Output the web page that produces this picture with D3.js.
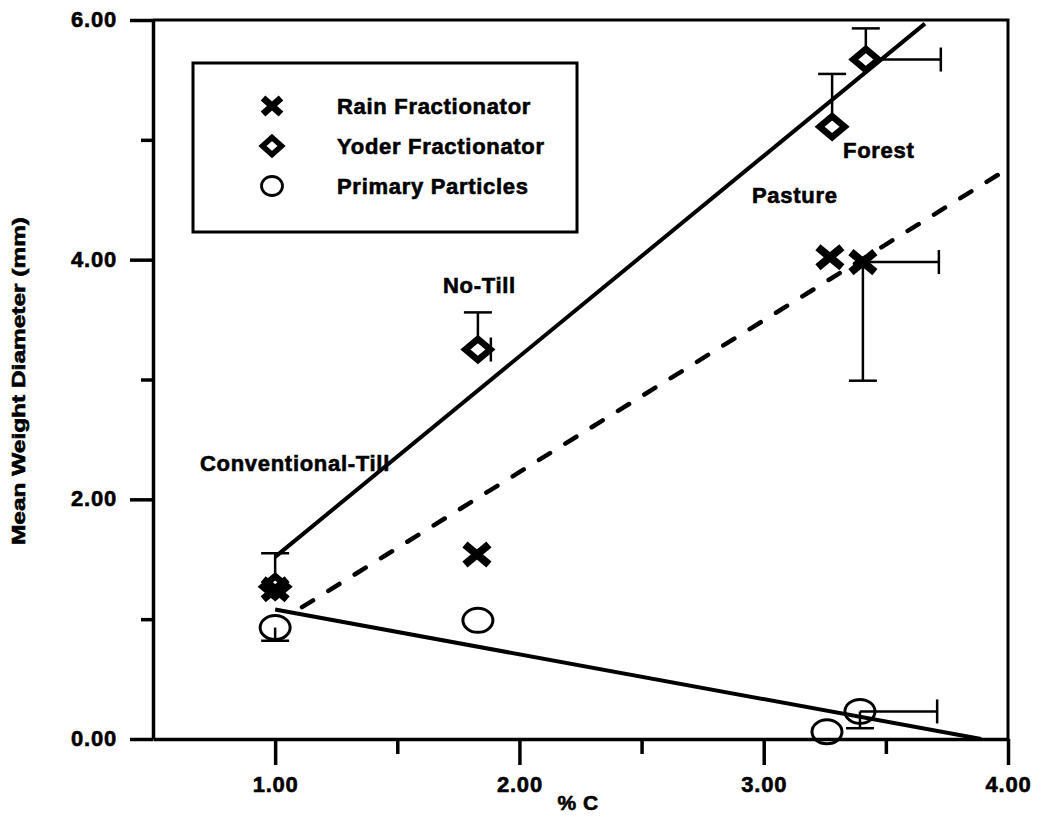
<!DOCTYPE html>
<html><head><meta charset="utf-8">
<script src="https://cdn.jsdelivr.net/npm/d3@7"></script>
<style>
body{margin:0;background:#fff}
text{font-family:"Liberation Sans",Arial,sans-serif;font-weight:bold;fill:#000;stroke:#000;stroke-width:0.6px}
</style>
</head><body><svg id="c" width="1040" height="822"></svg>
<script>
// ---- data ----
const xMajorTicks=[1,2,3,4];
const xMinorTicks=[1.5,2.5,3.5];
const yMajorTicks=[0,2,4,6];
const yMinorTicks=[1,3,5];
const xTickLabels=["1.00","2.00","3.00","4.00"];
const yTickLabels=["0.00","2.00","4.00","6.00"];

const rainX=[1.0,1.826,3.271,3.406];
const rainY=[1.25,1.54,4.02,3.98];
const rainYLo=[null,null,null,2.99];
const rainXHi=[null,null,null,3.717];

const yoderX=[1.0,1.83,3.28,3.418];
const yoderY=[1.27,3.25,5.11,5.67];
const yoderYHi=[1.55,3.56,5.55,5.93];
const yoderXHi=[null,1.883,null,3.725];

const primX=[1.0,1.83,3.259,3.394];
const primY=[0.93,0.99,0.06,0.23];
const primYLo=[0.82,null,null,0.09];
const primXHi=[null,null,null,3.71];

const yoderFit=[[1.0,1.52],[3.66,5.97]];
const rainFit=[[1.11,1.10],[4.0,4.76]];
const primFit=[[1.0,1.08],[3.89,0.0]];

const seriesNames=["Rain Fractionator","Yoder Fractionator","Primary Particles"];
const siteLabels=["Conventional-Till","No-Till","Pasture","Forest"];
const xTitle="% C";
const yTitle="Mean Weight Diameter (mm)";

// ---- chart ----
const svg=d3.select("#c");
const x=d3.scaleLinear().domain([0.5,4]).range([153,1008]);
const y=d3.scaleLinear().domain([0,6]).range([739,20]);

// frame top / right
svg.append("path").attr("d",`M${x(0.5)},${y(6)}H${x(4)}V${y(0)}`)
  .attr("fill","none").attr("stroke","#000").attr("stroke-width",3);

// axes
const gx=svg.append("g").attr("transform",`translate(0,${y(0)})`)
  .call(d3.axisBottom(x).tickValues(xMajorTicks).tickSize(26).tickSizeOuter(0)
    .tickFormat((d,i)=>xTickLabels[i]));
const gxm=svg.append("g").attr("transform",`translate(0,${y(0)})`)
  .call(d3.axisBottom(x).tickValues(xMinorTicks).tickSize(15).tickSizeOuter(0).tickFormat(""));
gxm.select(".domain").remove();
const gy=svg.append("g").attr("transform",`translate(${x(0.5)},0)`)
  .call(d3.axisLeft(y).tickValues(yMajorTicks).tickSize(23).tickSizeOuter(0)
    .tickFormat((d,i)=>yTickLabels[i]));
const gym=svg.append("g").attr("transform",`translate(${x(0.5)},0)`)
  .call(d3.axisLeft(y).tickValues(yMinorTicks).tickSize(12).tickSizeOuter(0).tickFormat(""));
gym.select(".domain").remove();
svg.selectAll(".domain").attr("stroke","#000").attr("stroke-width",3.5);
svg.selectAll(".tick line").attr("stroke","#000").attr("stroke-width",3.5);
[gx,gy].forEach(g=>g.selectAll(".tick text").attr("font-size",22).attr("letter-spacing",0.8)
  .attr("font-family","Liberation Sans, Arial").attr("font-weight","bold").attr("fill","#000")
  .attr("stroke","#000").attr("stroke-width",0.6));
gx.selectAll(".tick text").attr("y",53).attr("dy",0);
gy.selectAll(".tick text").attr("x",-36).attr("dy","0.3em");

// axis titles
svg.append("text").attr("x",578).attr("y",810).attr("text-anchor","middle")
  .attr("font-size",21).attr("letter-spacing",0.5).text(xTitle);
svg.append("text").attr("transform","translate(25,381) rotate(-90)").attr("text-anchor","middle")
  .attr("font-size",18).attr("textLength",328).attr("lengthAdjust","spacingAndGlyphs").text(yTitle);

// fit lines
const line=d3.line().x(d=>x(d[0])).y(d=>y(d[1]));
svg.append("path").attr("d",line(yoderFit)).attr("fill","none").attr("stroke","#000").attr("stroke-width",4);
svg.append("path").attr("d",line(primFit)).attr("fill","none").attr("stroke","#000").attr("stroke-width",4);
svg.append("path").attr("d",line(rainFit)).attr("fill","none").attr("stroke","#000").attr("stroke-width",4.5)
  .attr("stroke-dasharray","13,18").attr("stroke-linecap","round");

// error bars
const eb=svg.append("g").attr("stroke","#000").attr("stroke-width",2.5).attr("fill","none");
function vErr(xs,ys,ends){xs.forEach((xv,i)=>{if(ends[i]==null)return;
  eb.append("line").attr("x1",x(xv)).attr("x2",x(xv)).attr("y1",y(ys[i])).attr("y2",y(ends[i]));
  eb.append("line").attr("x1",x(xv)-14).attr("x2",x(xv)+14).attr("y1",y(ends[i])).attr("y2",y(ends[i]));});}
function hErr(xs,ys,ends){xs.forEach((xv,i)=>{if(ends[i]==null)return;
  eb.append("line").attr("x1",x(xv)).attr("x2",x(ends[i])).attr("y1",y(ys[i])).attr("y2",y(ys[i]));
  eb.append("line").attr("x1",x(ends[i])).attr("x2",x(ends[i])).attr("y1",y(ys[i])-12).attr("y2",y(ys[i])+12);});}
vErr(yoderX,yoderY,yoderYHi); hErr(yoderX,yoderY,yoderXHi);
vErr(rainX,rainY,rainYLo); hErr(rainX,rainY,rainXHi);
vErr(primX,primY,primYLo); hErr(primX,primY,primXHi);

// markers
function drawX(g,cx,cy,w,h,sw){g.append("path").attr("d",`M${cx-w},${cy-h}L${cx+w},${cy+h}M${cx-w},${cy+h}L${cx+w},${cy-h}`)
  .attr("stroke","#000").attr("stroke-width",sw).attr("fill","none");}
function drawD(g,cx,cy,w,h,sw){g.append("path").attr("d",`M${cx},${cy-h}L${cx+w},${cy}L${cx},${cy+h}L${cx-w},${cy}Z`)
  .attr("stroke","#000").attr("stroke-width",sw).attr("fill","#fff").attr("stroke-linejoin","miter");}
function drawO(g,cx,cy,rx,ry,sw){g.append("ellipse").attr("cx",cx).attr("cy",cy).attr("rx",rx).attr("ry",ry)
  .attr("stroke","#000").attr("stroke-width",sw).attr("fill","none");}
const mk=svg.append("g");
primX.forEach((v,i)=>drawO(mk,x(v),y(primY[i]),15,12,3));
yoderX.forEach((v,i)=>drawD(mk,x(v),y(yoderY[i]),12.5,10.5,6.5));
rainX.forEach((v,i)=>drawX(mk,x(v),y(rainY[i]),12,10,8));

// legend
const lg=svg.append("g");
lg.append("rect").attr("x",193).attr("y",63).attr("width",384).attr("height",169)
  .attr("fill","none").attr("stroke","#000").attr("stroke-width",3);
const rowsY=[106,146,186];
drawX(lg,272,rowsY[0],9,8,7);
drawD(lg,272,rowsY[1],9.5,8.5,5.5);
drawO(lg,272,rowsY[2],10.5,9.5,2.8);
seriesNames.forEach((s,i)=>lg.append("text").attr("x",337).attr("y",rowsY[i]+8)
  .attr("font-size",22).attr("letter-spacing",0.7).text(s));

// site labels
const sitePos=[[200,471],[443,293],[752,203],[843,158]];
siteLabels.forEach((s,i)=>svg.append("text").attr("x",sitePos[i][0]).attr("y",sitePos[i][1])
  .attr("font-size",22).attr("letter-spacing",0.7).text(s));
</script>
</body></html>
